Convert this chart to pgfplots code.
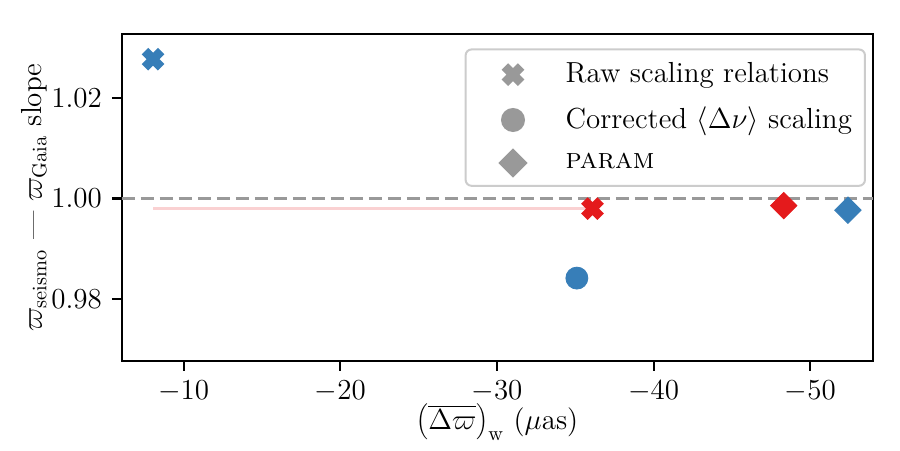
\RequirePackage{fix-cm}
\documentclass[border=0pt]{standalone}
\usepackage{pgfplots}
\pgfplotsset{compat=1.18}
\definecolor{cblue}{HTML}{377EB8}
\definecolor{cred}{HTML}{E41A1C}
\definecolor{cgray}{HTML}{999999}
\definecolor{cpink}{RGB}{250,209,210}
\pgfdeclareplotmark{Xf}{%
  \pgfpathmoveto{\pgfpoint{-0.424\pgfplotmarksize}{-0.990\pgfplotmarksize}}%
  \pgfpathlineto{\pgfpoint{-0.990\pgfplotmarksize}{-0.424\pgfplotmarksize}}%
  \pgfpathlineto{\pgfpoint{-0.566\pgfplotmarksize}{0pt}}%
  \pgfpathlineto{\pgfpoint{-0.990\pgfplotmarksize}{0.424\pgfplotmarksize}}%
  \pgfpathlineto{\pgfpoint{-0.424\pgfplotmarksize}{0.990\pgfplotmarksize}}%
  \pgfpathlineto{\pgfpoint{0pt}{0.566\pgfplotmarksize}}%
  \pgfpathlineto{\pgfpoint{0.424\pgfplotmarksize}{0.990\pgfplotmarksize}}%
  \pgfpathlineto{\pgfpoint{0.990\pgfplotmarksize}{0.424\pgfplotmarksize}}%
  \pgfpathlineto{\pgfpoint{0.566\pgfplotmarksize}{0pt}}%
  \pgfpathlineto{\pgfpoint{0.990\pgfplotmarksize}{-0.424\pgfplotmarksize}}%
  \pgfpathlineto{\pgfpoint{0.424\pgfplotmarksize}{-0.990\pgfplotmarksize}}%
  \pgfpathlineto{\pgfpoint{0pt}{-0.566\pgfplotmarksize}}%
  \pgfpathclose
  \pgfusepathqfill}
\begin{document}
\fontsize{14.5}{17.5}\selectfont
\begin{tikzpicture}[font=\fontsize{14.5}{17.5}\selectfont]
\useasboundingbox (-60.85pt,-44.65pt) rectangle (389pt,180.5pt);
\begin{axis}[
  at={(0pt,0pt)}, anchor=south west,
  scale only axis, width=375.5pt, height=163.5pt,
  x dir=reverse, xmin=-54.0, xmax=-6.05,
  ymin=0.9677, ymax=1.0327,
  xtick={-10,-20,-30,-40,-50}, ytick={0.98,1.00,1.02},
  yticklabel style={/pgf/number format/.cd, fixed, fixed zerofill, precision=2},
  tick align=outside, xtick pos=left, ytick pos=left,
  major tick length=4.9pt,
  axis line style={line width=1.1pt},
  tick style={line width=1.1pt, black},
  xlabel={$\left(\overline{\Delta\varpi}\right)_{\mathrm{w}}$ ($\mu$as)},
  ylabel={$\varpi_{\mathrm{seismo}}$ --- $\varpi_{\mathrm{Gaia}}$ slope},
  xlabel style={at={(axis description cs:0.5,-0.187)}, anchor=center},
  ylabel style={at={(axis description cs:-0.1158,0.5)}, anchor=center},
  legend image code/.code={\path (-18.7pt,0pt) (8.5pt,0pt); \draw[#1] plot coordinates {(0pt,0pt)};},
  legend style={at={(rel axis cs:1,1)}, anchor=north east, xshift=-3.5pt, yshift=-7.2pt,
    draw=black!20, line width=1pt, rounded corners=3pt, fill=white,
    inner xsep=4.5pt, inner ysep=4.5pt, row sep=6pt, column sep=15.3pt,
    cells={anchor=west}, font=\fontsize{14.5}{17.5}\selectfont},
]
\addplot[cgray, line width=1.5pt, dash pattern=on 6.5pt off 3pt, forget plot] coordinates {(-6.05,1.0) (-54.0,1.0)};
\addplot[cpink, line width=1.5pt, forget plot] coordinates {(-8.05,0.998) (-36.1,0.998)};
\addplot[only marks, mark=Xf, mark size=5.73pt, color=cblue, forget plot] coordinates {(-8.05,1.0277)};
\addplot[only marks, mark=Xf, mark size=5.73pt, color=cred, forget plot] coordinates {(-36.1,0.998)};
\addplot[only marks, mark=*, mark size=5.5pt, color=cblue, forget plot] coordinates {(-35.1,0.9842)};
\addplot[only marks, mark=square*, mark size=4.67pt, mark options={rotate=45}, color=cred, forget plot] coordinates {(-48.3,0.9986)};
\addplot[only marks, mark=square*, mark size=4.67pt, mark options={rotate=45}, color=cblue, forget plot] coordinates {(-52.4,0.9977)};
\addlegendimage{only marks, mark=Xf, mark size=5.73pt, color=cgray}
\addlegendentry{Raw scaling relations}
\addlegendimage{only marks, mark=*, mark size=5.5pt, color=cgray}
\addlegendentry{Corrected $\langle\Delta\nu\rangle$ scaling}
\addlegendimage{only marks, mark=square*, mark size=4.67pt, mark options={rotate=45}, color=cgray}
\addlegendentry{\textsc{param}}
\end{axis}
\end{tikzpicture}
\end{document}
